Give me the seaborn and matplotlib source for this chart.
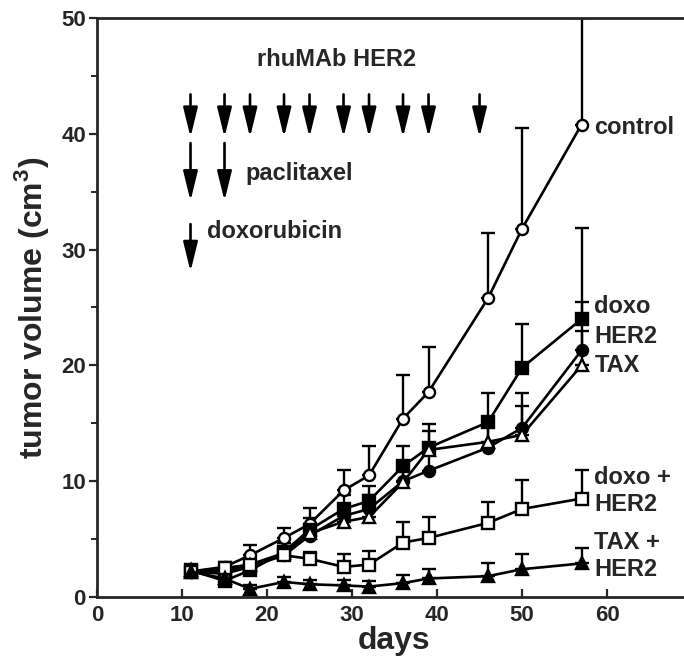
import matplotlib
matplotlib.use("Agg")
import matplotlib.pyplot as plt
import seaborn as sns
import pandas as pd
from matplotlib.ticker import MultipleLocator

# measurement days
days = [11, 15, 18, 22, 25, 29, 32, 36, 39, 46, 50, 57]

control = [2.2, 2.6, 3.6, 5.1, 6.3, 9.2, 10.5, 15.4, 17.7, 25.8, 31.8, 40.8]
control_err = [0.3, 0.4, 0.9, 0.9, 1.4, 1.8, 2.5, 3.8, 3.9, 5.6, 8.7, 9.2]

doxo = [2.3, 1.4, 2.3, 3.9, 5.8, 7.6, 8.3, 11.3, 12.9, 15.1, 19.8, 24.0]
doxo_err = [0.2, 0.3, 0.5, 0.8, 1.0, 1.2, 1.3, 1.7, 2.0, 2.5, 3.8, 7.9]

her2 = [2.2, 2.0, 2.6, 3.6, 5.3, 7.0, 7.6, 10.0, 10.9, 12.9, 14.6, 21.3]
her2_err = [0.2, 0.3, 0.4, 0.6, 0.8, 1.0, 1.2, 1.5, 1.8, 2.2, 3.0, 4.2]

tax = [2.3, 2.2, 2.8, 3.8, 5.5, 6.5, 6.9, 9.9, 12.7, 13.4, 14.0, 20.0]
tax_err = [0.2, 0.3, 0.4, 0.6, 0.8, 1.0, 1.1, 1.4, 1.6, 2.0, 2.5, 3.0]

doxo_her2 = [2.2, 2.5, 2.8, 3.6, 3.3, 2.6, 2.8, 4.7, 5.1, 6.4, 7.6, 8.5]
doxo_her2_err = [0.2, 0.3, 0.6, 0.6, 0.6, 1.1, 1.2, 1.8, 1.8, 1.8, 2.5, 2.5]

tax_her2 = [2.2, 1.6, 0.7, 1.3, 1.1, 1.0, 0.9, 1.2, 1.6, 1.8, 2.4, 2.9]
tax_her2_err = [0.2, 0.3, 0.3, 0.4, 0.4, 0.5, 0.5, 0.7, 0.8, 1.1, 1.3, 1.3]

# treatment schedule (arrows)
her2_days = [11, 15, 18, 22, 25, 29, 32, 36, 39, 45]
paclitaxel_days = [11, 15]
doxorubicin_days = [11]

# right-hand labels
end_labels = ["control", "doxo", "HER2", "TAX", "doxo +", "HER2", "TAX +", "HER2"]
end_label_y = [40.5, 25.1, 22.5, 20.0, 10.3, 8.0, 4.7, 2.4]

series = [
    ("control", control, control_err, "o", "white"),
    ("doxo", doxo, doxo_err, "s", "black"),
    ("HER2", her2, her2_err, "o", "black"),
    ("TAX", tax, tax_err, "^", "white"),
    ("doxo + HER2", doxo_her2, doxo_her2_err, "s", "white"),
    ("TAX + HER2", tax_her2, tax_her2_err, "^", "black"),
]

sns.set_style("ticks")
plt.rcParams["font.family"] = ["Liberation Sans", "DejaVu Sans"]
plt.rcParams["font.weight"] = "bold"
plt.rcParams["mathtext.fontset"] = "custom"
plt.rcParams["mathtext.bf"] = "Liberation Sans:bold"

fig = plt.figure(figsize=(6.84, 6.58), dpi=100)
ax = fig.add_axes([0.1418, 0.0927, 0.87, 0.88])

for name, vals, err, mk, face in series:
    df = pd.DataFrame({"day": days, "volume": vals})
    ax.errorbar(days, vals, yerr=[[0] * len(err), err], fmt="none",
                ecolor="black", elinewidth=1.7, capsize=5, capthick=1.7,
                zorder=2)
    sns.lineplot(data=df, x="day", y="volume", ax=ax, color="black",
                 linewidth=1.9, marker=mk, markersize=8 if mk != "^" else 9,
                 markerfacecolor=face, markeredgecolor="black",
                 markeredgewidth=1.7, zorder=3)

arrow = dict(arrowstyle="-|>,head_length=0.9,head_width=0.22", color="black",
             lw=1.9, mutation_scale=20, shrinkA=0, shrinkB=0)
for d in her2_days:
    ax.annotate("", xy=(d, 39.7), xytext=(d, 43.4), arrowprops=arrow)
for d in paclitaxel_days:
    ax.annotate("", xy=(d, 34.2), xytext=(d, 39.2), arrowprops=arrow)
for d in doxorubicin_days:
    ax.annotate("", xy=(d, 28.1), xytext=(d, 32.2), arrowprops=arrow)

lab_font = dict(fontsize=17, fontweight="bold")
ax.text(28.2, 46.4, "rhuMAb HER2", ha="center", va="center", **lab_font)
ax.text(17.5, 36.6, "paclitaxel", ha="left", va="center", **lab_font)
ax.text(12.9, 31.6, "doxorubicin", ha="left", va="center", **lab_font)

for txt, y in zip(end_labels, end_label_y):
    ax.text(58.5, y, txt, ha="left", va="center", **lab_font)

ax.set_xlim(0, 70)
ax.set_ylim(0, 50)
ax.set_xticks(range(0, 61, 10))
ax.yaxis.set_major_locator(MultipleLocator(10))
ax.yaxis.set_minor_locator(MultipleLocator(5))
ax.tick_params(axis="x", direction="in", length=6, width=1.6,
               labelsize=16, pad=6)
ax.tick_params(axis="y", which="major", direction="out", length=6,
               width=1.6, labelsize=16, pad=2)
ax.tick_params(axis="y", which="minor", direction="out", length=4,
               width=1.4)
for lab in ax.get_xticklabels() + ax.get_yticklabels():
    lab.set_fontweight("bold")

for side in ["left", "bottom", "top"]:
    ax.spines[side].set_visible(True)
    ax.spines[side].set_linewidth(2)
ax.spines["right"].set_visible(False)

ax.set_xlabel("days", fontsize=23, fontweight="bold", labelpad=0)
ax.set_ylabel("tumor volume (cm$^\\mathbf{3}$)", fontsize=23,
              fontweight="bold", labelpad=7)

fig.savefig("out.png", dpi=100)
